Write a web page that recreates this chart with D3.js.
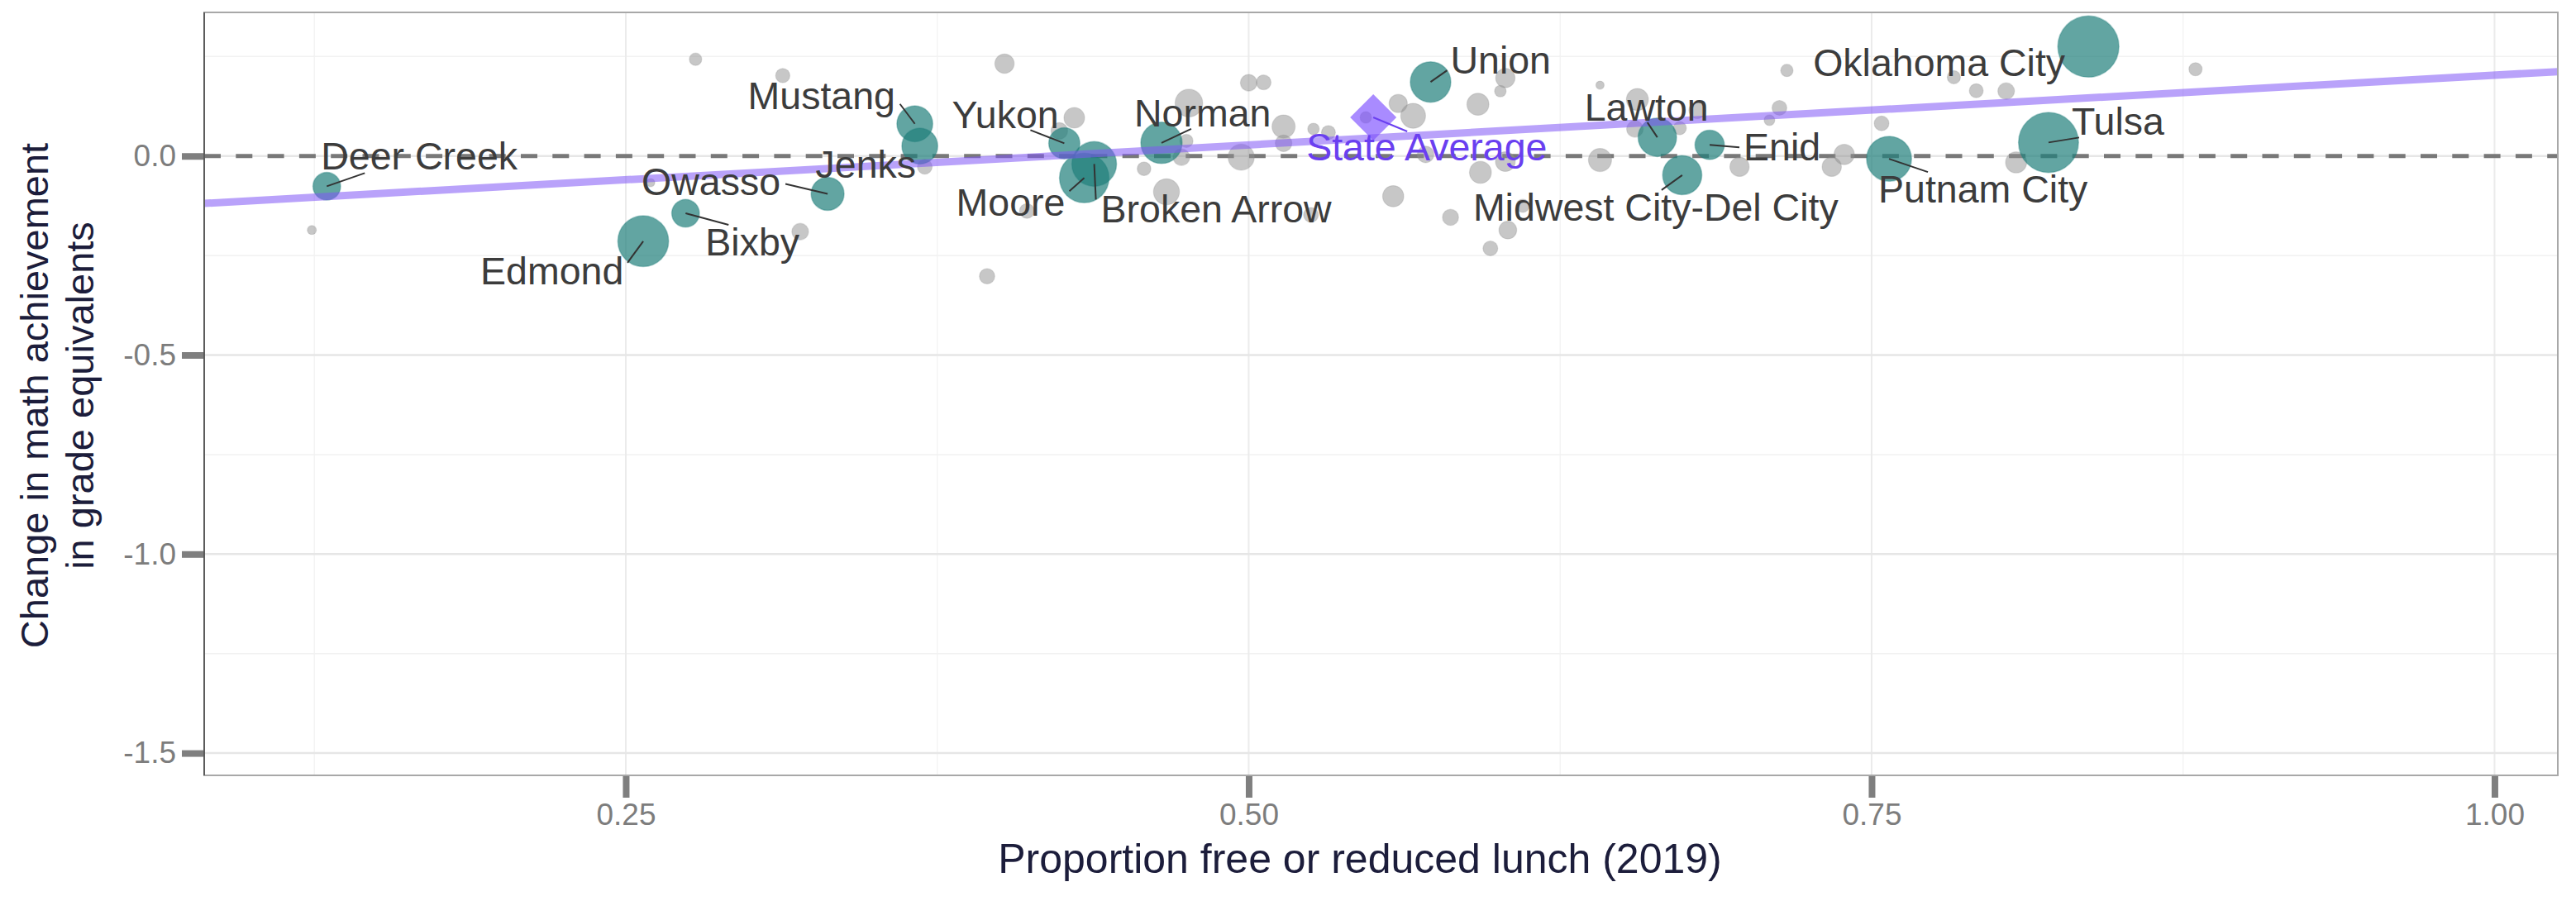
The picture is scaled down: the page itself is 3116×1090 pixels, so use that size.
<!DOCTYPE html>
<html>
<head>
<meta charset="utf-8">
<script src="https://cdn.jsdelivr.net/npm/d3@7"></script>
<style>
  body { margin: 0; background: #fff; }
  svg { display: block; font-family: "Liberation Sans", Arial, sans-serif; }
</style>
</head>
<body>
<svg width="3116" height="1090"></svg>
<script>
// highlighted districts
const districtNames = ['Deer Creek', 'Edmond', 'Bixby', 'Owasso', 'Mustang', 'Jenks', 'Yukon', 'Moore',
  'Broken Arrow', 'Norman', 'Union', 'Lawton', 'Midwest City-Del City', 'Enid', 'Putnam City',
  'Oklahoma City', 'Tulsa'];
const districtFrl = [0.130, 0.257, 0.274, 0.331, 0.366, 0.368, 0.426, 0.434,
  0.438, 0.465, 0.573, 0.664, 0.674, 0.685, 0.757, 0.837, 0.821];
const districtChange = [-0.076, -0.214, -0.144, -0.095, 0.081, 0.025, 0.032, -0.055,
  -0.020, 0.033, 0.186, 0.047, -0.048, 0.028, -0.007, 0.275, 0.034];
const districtEnroll = [9.4, 31.7, 9.4, 13.4, 15.8, 15.8, 11.9, 30.2,
  24.5, 21.0, 20.2, 18.2, 18.9, 10.6, 24.9, 46.0, 44.3];

// all other districts (grey)
const otherFrl = [0.278, 0.124, 0.260, 0.313, 0.370, 0.320, 0.402, 0.430, 0.424, 0.411,
  0.395, 0.458, 0.467, 0.476, 0.475, 0.473, 0.500, 0.506, 0.514, 0.514,
  0.497, 0.526, 0.532, 0.525, 0.547, 0.560, 0.566, 0.603, 0.601, 0.592,
  0.593, 0.571, 0.603, 0.558, 0.581, 0.604, 0.597, 0.610, 0.641, 0.656,
  0.655, 0.673, 0.680, 0.641, 0.697, 0.716, 0.713, 0.709, 0.739, 0.734,
  0.754, 0.783, 0.792, 0.804, 0.880, 0.808];
const otherChange = [0.243, -0.186, -0.067, 0.202, -0.027, -0.190, 0.232, 0.096, 0.063, -0.138,
  -0.302, -0.032, -0.090, 0.133, 0.038, -0.003, 0.184, 0.185, 0.074, 0.032,
  -0.003, 0.068, 0.059, -0.148, 0.097, 0.132, 0.101, 0.196, 0.163, 0.130,
  -0.041, 0.004, -0.014, -0.101, -0.154, -0.186, -0.232, -0.125, 0.178, 0.142,
  0.068, 0.070, 0.115, -0.010, -0.027, 0.215, 0.121, 0.090, 0.004, -0.027,
  0.082, 0.198, 0.164, 0.163, 0.218, -0.016];
const otherEnroll = [1.9, 1.0, 0.84, 2.5, 2.7, 3.4, 4.6, 5.25, 3.4, 2.7,
  2.9, 2.3, 8.3, 9.4, 2.15, 3.4, 3.4, 2.7, 6.6, 3.4,
  8.4, 1.65, 2.4, 2.7, 1.65, 4.1, 7.6, 4.6, 1.65, 5.95,
  5.95, 3.4, 4.8, 5.5, 3.2, 3.9, 2.7, 2.15, 0.84, 5.95,
  3.4, 2.15, 3.4, 6.6, 4.6, 1.9, 2.7, 1.4, 5.1, 4.6,
  2.7, 2.15, 2.4, 3.4, 2.15, 5.5];

const stateAvg = { name: 'State Average', frl: 0.550, change: 0.097 };

// fitted line, read at the panel edges
const trendFrl = [0.0808, 1.0254];
const trendChange = [-0.119, 0.212];

const xTicks = [0.25, 0.50, 0.75, 1.00];
const xMinor = [0.125, 0.375, 0.625, 0.875];
const yTicks = [0.0, -0.5, -1.0, -1.5];
const yMinor = [0.25, -0.25, -0.75, -1.25];

// label placement (px, relative to the point): text start and segment start
const labelLayout = {
  'Deer Creek':            { dx: -7,   dy: -20, sx: 46,  sy: -16 },
  'Edmond':                { dx: -197, dy: 52,  sx: -19, sy: 26 },
  'Bixby':                 { dx: 24,   dy: 51,  sx: 52,  sy: 14 },
  'Owasso':                { dx: -225, dy: 2,   sx: -51, sy: -12 },
  'Mustang':               { dx: -202, dy: -18, sx: -18, sy: -24 },
  'Jenks':                 { dx: -126, dy: 38,  sx: null },
  'Yukon':                 { dx: -136, dy: -18, sx: -41, sy: -16 },
  'Moore':                 { dx: -155, dy: 46,  sx: -18, sy: 16 },
  'Broken Arrow':          { dx: 8,    dy: 71,  sx: 2,   sy: 43 },
  'Norman':                { dx: -33,  dy: -20, sx: 36,  sy: -17 },
  'Union':                 { dx: 24,   dy: -10, sx: 20,  sy: -14 },
  'Lawton':                { dx: -88,  dy: -20, sx: -12, sy: -18 },
  'Midwest City-Del City': { dx: -253, dy: 55,  sx: -25, sy: 18 },
  'Enid':                  { dx: 41,   dy: 19,  sx: 36,  sy: 3 },
  'Putnam City':           { dx: -13,  dy: 53,  sx: 47,  sy: 16 },
  'Oklahoma City':         { dx: -333, dy: 36,  sx: null },
  'Tulsa':                 { dx: 28,   dy: -9,  sx: 37,  sy: -6 },
  'State Average':         { dx: -81,  dy: 52,  sx: 41,  sy: 17 }
};

const width = 3116, height = 1090;
const panel = { left: 247, right: 3094, top: 15, bottom: 938 };

const x = d3.scaleLinear().domain([0.0808, 1.0254]).range([panel.left, panel.right]);
const y = d3.scaleLinear().domain([0.3608, -1.5559]).range([panel.top, panel.bottom]);
const r = d3.scaleSqrt().domain([0, 46]).range([0, 37]);

const svg = d3.select('svg');

svg.append('defs').append('clipPath').attr('id', 'clip')
  .append('rect')
  .attr('x', panel.left).attr('y', panel.top)
  .attr('width', panel.right - panel.left).attr('height', panel.bottom - panel.top);

// grid
let grid = svg.append('g');
grid.selectAll('.xminor').data(xMinor).enter().append('line')
  .attr('x1', d => x(d)).attr('x2', d => x(d))
  .attr('y1', panel.top).attr('y2', panel.bottom)
  .attr('stroke', '#f4f4f4').attr('stroke-width', 1.5);
grid.selectAll('.yminor').data(yMinor).enter().append('line')
  .attr('y1', d => y(d)).attr('y2', d => y(d))
  .attr('x1', panel.left).attr('x2', panel.right)
  .attr('stroke', '#f2f2f2').attr('stroke-width', 1.5);
grid.selectAll('.xmajor').data(xTicks).enter().append('line')
  .attr('x1', d => x(d)).attr('x2', d => x(d))
  .attr('y1', panel.top).attr('y2', panel.bottom)
  .attr('stroke', '#ebebeb').attr('stroke-width', 2);
grid.selectAll('.ymajor').data(yTicks).enter().append('line')
  .attr('y1', d => y(d)).attr('y2', d => y(d))
  .attr('x1', panel.left).attr('x2', panel.right)
  .attr('stroke', '#e6e6e6').attr('stroke-width', 2.5);

let plot = svg.append('g').attr('clip-path', 'url(#clip)');

// zero reference
plot.append('line')
  .attr('x1', panel.left).attr('x2', panel.right)
  .attr('y1', y(0)).attr('y2', y(0))
  .attr('stroke', '#787878').attr('stroke-width', 5)
  .attr('stroke-dasharray', '20,18.3');

const others = otherFrl.map((d, i) => ({ frl: d, change: otherChange[i], n: otherEnroll[i] }));
plot.append('g').selectAll('circle')
  .data(others).enter().append('circle')
  .attr('cx', d => x(d.frl)).attr('cy', d => y(d.change)).attr('r', d => r(d.n))
  .attr('fill', '#8f8f8f').attr('fill-opacity', 0.5)
  .attr('stroke', '#8f8f8f').attr('stroke-opacity', 0.25).attr('stroke-width', 1.2);

const districts = districtNames.map((d, i) => ({
  name: d, frl: districtFrl[i], change: districtChange[i], n: districtEnroll[i]
}));
plot.append('g').selectAll('circle')
  .data(districts).enter().append('circle')
  .attr('cx', d => x(d.frl)).attr('cy', d => y(d.change)).attr('r', d => r(d.n))
  .attr('fill', '#1f7f7a').attr('fill-opacity', 0.7)
  .attr('stroke', '#1f7f7a').attr('stroke-opacity', 0.35).attr('stroke-width', 1.5);

// state average diamond
const sa = 28;
plot.append('path')
  .attr('d', `M0,${-sa}L${sa},0L0,${sa}L${-sa},0Z`)
  .attr('transform', `translate(${x(stateAvg.frl)},${y(stateAvg.change)})`)
  .attr('fill', '#7b4dff').attr('fill-opacity', 0.65);

// fitted line
plot.append('path')
  .datum(trendFrl.map((d, i) => [d, trendChange[i]]))
  .attr('d', d3.line().x(d => x(d[0])).y(d => y(d[1])))
  .attr('fill', 'none')
  .attr('stroke', '#7f55f5').attr('stroke-opacity', 0.55).attr('stroke-width', 9);

// labels
let labels = svg.append('g');
const labelled = districts.concat([{ name: stateAvg.name, frl: stateAvg.frl, change: stateAvg.change, avg: true }]);
labelled.forEach(d => {
  const L = labelLayout[d.name];
  const px = x(d.frl), py = y(d.change);
  const col = d.avg ? '#6a3ff0' : '#3c3c3c';
  if (L.sx !== null) {
    labels.append('line')
      .attr('x1', px + L.sx).attr('y1', py + L.sy)
      .attr('x2', px).attr('y2', py)
      .attr('stroke', d.avg ? '#6a3ff0' : '#333').attr('stroke-width', 2);
  }
  labels.append('text')
    .attr('x', px + L.dx).attr('y', py + L.dy)
    .attr('font-size', 46.5)
    .attr('fill', col)
    .text(d.name);
});

// panel border
svg.append('rect')
  .attr('x', panel.left).attr('y', panel.top)
  .attr('width', panel.right - panel.left).attr('height', panel.bottom - panel.top)
  .attr('fill', 'none').attr('stroke', '#a8a8a8').attr('stroke-width', 2);
svg.append('line')
  .attr('x1', panel.left).attr('x2', panel.left)
  .attr('y1', panel.top).attr('y2', panel.bottom)
  .attr('stroke', '#5c5c5c').attr('stroke-width', 2);

// axes
let yAxis = svg.append('g')
  .attr('transform', `translate(${panel.left - 1},0)`)
  .call(d3.axisLeft(y).tickValues(yTicks).tickSize(26).tickPadding(7)
    .tickFormat(d => d.toFixed(1)));
let xAxis = svg.append('g')
  .attr('transform', `translate(0,${panel.bottom + 1})`)
  .call(d3.axisBottom(x).tickValues(xTicks).tickSize(26).tickPadding(7)
    .tickFormat(d => d.toFixed(2)));

[yAxis, xAxis].forEach(a => {
  a.select('.domain').remove();
  a.selectAll('.tick line').attr('stroke', '#7f7f7f').attr('stroke-width', 8);
  a.selectAll('.tick text')
    .attr('fill', '#7d7d7d')
    .attr('font-size', 37)
    .attr('font-family', '"Liberation Sans", Arial, sans-serif');
});

svg.append('text')
  .attr('x', 1645).attr('y', 1056)
  .attr('text-anchor', 'middle')
  .attr('font-size', 50)
  .attr('fill', '#1c1d3b')
  .text('Proportion free or reduced lunch (2019)');

let yTitle = svg.append('text')
  .attr('transform', `translate(58,${(panel.top + panel.bottom) / 2 + 2}) rotate(-90)`)
  .attr('text-anchor', 'middle')
  .attr('font-size', 47)
  .attr('fill', '#1c1d3b');
yTitle.append('tspan').attr('x', 0).attr('dy', 0).text('Change in math achievement');
yTitle.append('tspan').attr('x', 0).attr('dy', 55).text('in grade equivalents');
</script>
</body>
</html>
